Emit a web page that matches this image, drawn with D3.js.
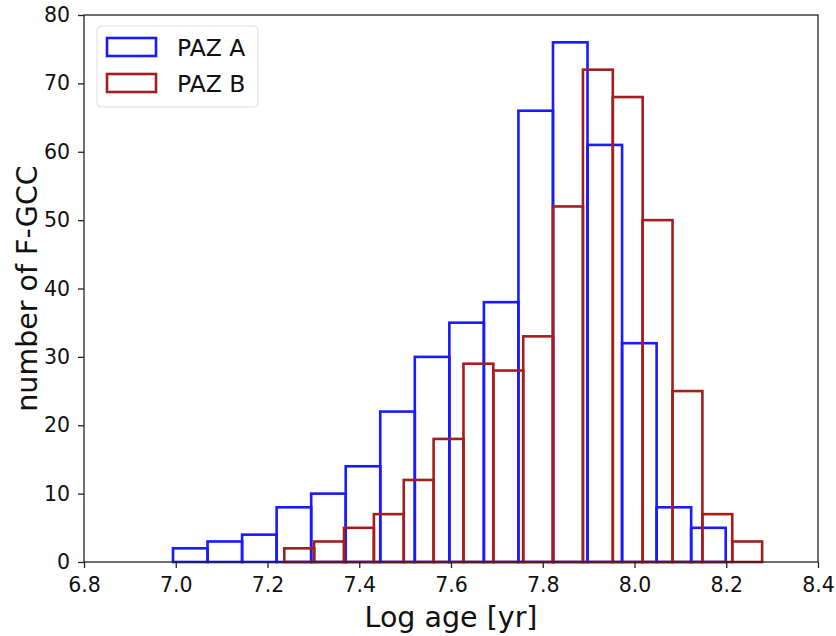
<!DOCTYPE html>
<html><head><meta charset="utf-8">
<script src="https://cdn.jsdelivr.net/npm/d3@7"></script>
<style>body{margin:0;background:#fff}svg{display:block}text{font-family:"DejaVu Sans",sans-serif}</style>
</head><body><svg id="c" width="836" height="636"></svg>
<script>
const xTicks = [6.8, 7.0, 7.2, 7.4, 7.6, 7.8, 8.0, 8.2, 8.4];
const yTicks = [0, 10, 20, 30, 40, 50, 60, 70, 80];
const seriesNames = ["PAZ A", "PAZ B"];
const seriesColors = ["#1a1aff", "#a51e1e"];
const pazAStart = 6.994, pazABinWidth = 0.0753;
const pazACounts = [2, 3, 4, 8, 10, 14, 22, 30, 35, 38, 66, 76, 61, 32, 8, 5];
const pazBStart = 7.2366, pazBBinWidth = 0.0651;
const pazBCounts = [2, 3, 5, 7, 12, 18, 29, 28, 33, 52, 72, 68, 50, 25, 7, 3];

const svg = d3.select("#c");
const m = {l: 84, r: 818, t: 15, b: 562};
const x = d3.scaleLinear().domain([6.8, 8.4]).range([m.l, m.r]);
const y = d3.scaleLinear().domain([0, 80]).range([m.b, m.t]);

const series = [
  {start: pazAStart, w: pazABinWidth, counts: pazACounts},
  {start: pazBStart, w: pazBBinWidth, counts: pazBCounts}
];
series.forEach((s, si) => {
  svg.append("g").selectAll("rect").data(s.counts).join("rect")
    .attr("x", (d, i) => x(s.start + i * s.w))
    .attr("width", (d, i) => x(s.start + (i + 1) * s.w) - x(s.start + i * s.w))
    .attr("y", d => y(d))
    .attr("height", d => y(0) - y(d))
    .attr("fill", "none")
    .attr("stroke", seriesColors[si])
    .attr("stroke-width", 2.6);
});

// frame
svg.append("rect").attr("x", m.l).attr("y", m.t).attr("width", m.r - m.l).attr("height", m.b - m.t)
  .attr("fill", "none").attr("stroke", "#222").attr("stroke-width", 1.3);

const xa = svg.append("g").attr("transform", `translate(0,${m.b})`)
  .call(d3.axisBottom(x).tickValues(xTicks).tickFormat(d3.format(".1f")).tickSize(6).tickPadding(9));
const ya = svg.append("g").attr("transform", `translate(${m.l},0)`)
  .call(d3.axisLeft(y).tickValues(yTicks).tickSize(6).tickPadding(8));
[xa, ya].forEach(a => {
  a.select(".domain").remove();
  a.selectAll("line").attr("stroke", "#222").attr("stroke-width", 1.3);
  a.selectAll("text").attr("font-size", 20.5).attr("fill", "#111").attr("font-family", "DejaVu Sans");
});

svg.append("text").attr("x", (m.l + m.r) / 2).attr("y", 627).attr("text-anchor", "middle")
  .attr("font-size", 28.5).attr("fill", "#111").text("Log age [yr]");
svg.append("text").attr("transform", `translate(37,${(m.t + m.b) / 2}) rotate(-90)`)
  .attr("text-anchor", "middle").attr("font-size", 28.5).attr("fill", "#111").text("number of F-GCC");

// legend
const lg = svg.append("g");
lg.append("rect").attr("x", 97).attr("y", 26).attr("width", 161).attr("height", 81).attr("rx", 4)
  .attr("fill", "#fff").attr("stroke", "#ddd").attr("stroke-width", 1);
seriesNames.forEach((n, i) => {
  lg.append("rect").attr("x", 107).attr("y", 38 + i * 36).attr("width", 49).attr("height", 18)
    .attr("fill", "none").attr("stroke", seriesColors[i]).attr("stroke-width", 2.6);
  lg.append("text").attr("x", 177).attr("y", 55.5 + i * 36).attr("font-size", 23.5).attr("fill", "#111").text(n);
});
</script></body></html>
